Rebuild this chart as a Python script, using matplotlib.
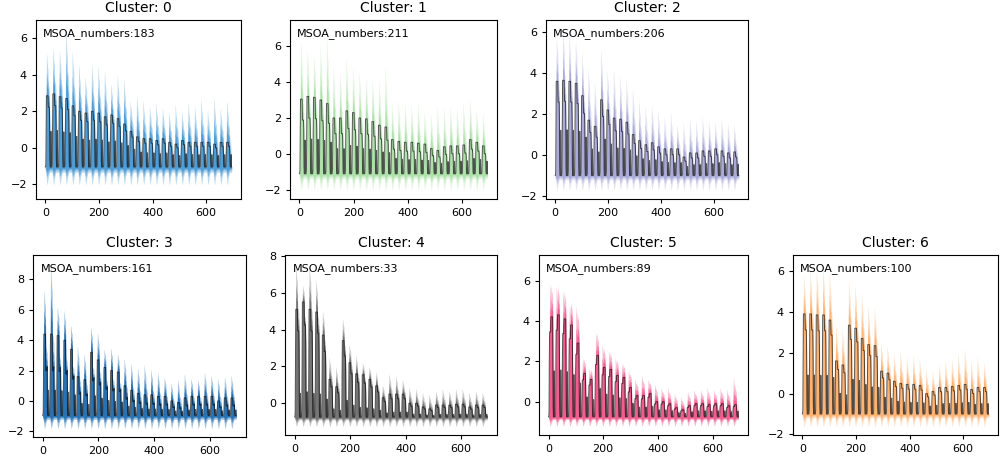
import numpy as np
import matplotlib
matplotlib.use("Agg")
import matplotlib.pyplot as plt

# ---------------- data ----------------
cluster_ids = [0, 1, 2, 3, 4, 5, 6]
msoa_numbers = [183, 211, 206, 161, 33, 89, 100]
colors = ['#3e93d1', '#93d98e', '#9191cf', '#1f6cb0', '#6b6b6b', '#ef5488', '#fdac66']

n_days = 29
hours = 24

# daily peak of the cluster mean (barycentre)
peak_0 = [2.85, 2.95, 2.8, 2.7, 2.3, 2.0, 1.9, 2.0, 1.9, 1.7, 1.8, 1.6, 1.3, 0.9, 0.6, 0.5, 0.5, 0.4, 0.5, 0.3, 0.2, 0.4, 0.3, 0.3, 0.3, 0.3, 0.2, 0.3, 0.3]
peak_1 = [3.05, 3.2, 3.15, 3.0, 2.8, 2.0, 2.0, 2.4, 2.3, 2.0, 1.95, 1.8, 1.6, 1.5, 0.8, 0.7, 0.65, 0.65, 0.6, 0.55, 0.3, 0.2, 0.4, 0.45, 0.45, 0.5, 0.8, 0.65, 0.45]
peak_2 = [3.6, 3.65, 3.6, 3.5, 2.9, 1.7, 1.4, 2.7, 2.2, 1.8, 1.75, 1.6, 1.0, 0.7, 0.5, 0.6, 0.4, 0.3, 0.3, 0.3, -0.1, 0.1, 0.1, 0.2, 0.2, 0.3, 0.2, 0.1, 0.15]
peak_3 = [4.4, 4.4, 4.3, 4.0, 3.4, 1.6, 1.4, 3.2, 2.7, 2.2, 2.0, 1.9, 1.0, 0.7, 0.5, 0.4, 0.4, 0.3, 0.3, 0.0, -0.1, 0.2, 0.3, 0.3, 0.3, 0.3, 0.0, 0.2, 0.2]
peak_4 = [5.1, 5.5, 5.1, 4.95, 3.7, 1.3, 0.9, 3.4, 2.2, 1.6, 1.55, 1.3, 0.95, 0.3, 0.5, 0.5, 0.5, 0.0, 0.0, -0.2, -0.3, -0.1, -0.1, -0.1, -0.05, -0.05, -0.2, -0.1, -0.1]
peak_5 = [4.2, 4.3, 4.1, 3.8, 2.9, 1.4, 1.1, 2.3, 1.7, 1.6, 1.3, 1.2, 0.7, 0.3, 0.3, 0.4, 0.0, 0.0, -0.1, -0.3, -0.4, -0.2, -0.1, -0.1, -0.15, -0.1, -0.1, -0.2, -0.15]
peak_6 = [3.9, 3.9, 3.85, 3.85, 3.6, 1.6, 1.4, 3.35, 3.2, 2.7, 2.4, 2.35, 1.1, 1.0, 0.6, 0.5, 0.45, 0.45, 0.4, 0.0, 0.1, 0.3, 0.3, 0.35, 0.4, 0.45, 0.2, 0.3, 0.3]

# daily maximum reached by the individual MSOA series
max_0 = [5.2, 5.5, 5.4, 6.5, 5.3, 4.6, 3.9, 4.6, 4.5, 4.2, 3.5, 4.0, 3.8, 2.6, 2.9, 2.6, 2.3, 2.5, 2.2, 2.0, 2.4, 2.0, 2.5, 2.3, 2.7, 2.1, 2.8, 2.2, 2.6]
max_1 = [6.3, 5.8, 5.5, 6.0, 6.6, 4.9, 4.6, 5.4, 4.8, 4.6, 4.3, 4.2, 4.1, 4.9, 2.9, 3.0, 2.9, 2.8, 2.9, 2.4, 2.3, 2.7, 2.6, 2.7, 2.6, 2.9, 3.1, 2.5, 2.3]
max_2 = [5.8, 6.2, 5.9, 5.6, 5.0, 4.3, 3.6, 5.2, 4.1, 4.2, 3.9, 3.7, 3.3, 2.7, 2.4, 2.5, 2.2, 1.9, 2.1, 1.5, 1.6, 1.8, 1.7, 1.9, 1.7, 1.6, 1.8, 1.6, 1.5]
max_3 = [7.3, 9.0, 6.2, 6.0, 5.0, 3.6, 3.1, 4.9, 4.5, 3.4, 3.5, 3.1, 2.8, 2.5, 2.2, 2.4, 2.1, 1.9, 1.6, 1.2, 1.4, 1.8, 1.5, 1.4, 1.9, 1.7, 1.5, 1.6, 1.7]
max_4 = [7.5, 6.4, 7.5, 6.7, 5.0, 2.5, 2.0, 4.6, 3.2, 2.6, 2.2, 2.0, 1.7, 1.0, 1.6, 1.5, 1.3, 0.9, 0.8, 0.6, 0.5, 0.7, 0.8, 0.7, 0.8, 0.8, 0.6, 0.7, 0.6]
max_5 = [6.6, 6.5, 6.2, 5.5, 5.3, 2.5, 1.9, 3.9, 3.2, 2.9, 2.5, 2.2, 1.8, 1.3, 1.5, 1.3, 1.0, 0.8, 0.8, 0.5, 0.3, 0.6, 0.7, 0.7, 0.8, 0.7, 0.8, 0.7, 1.3]
max_6 = [5.8, 6.0, 6.1, 6.2, 5.9, 3.4, 3.2, 5.5, 5.3, 4.9, 4.3, 4.2, 2.5, 2.3, 2.0, 2.1, 1.8, 1.9, 1.7, 1.2, 1.1, 1.4, 1.6, 1.7, 2.0, 2.2, 1.6, 1.8, 1.5]

peaks = [peak_0, peak_1, peak_2, peak_3, peak_4, peak_5, peak_6]
maxima = [max_0, max_1, max_2, max_3, max_4, max_5, max_6]

night_level = [-1.05, -1.1, -1.0, -0.95, -0.75, -0.75, -1.0]   # mean at night
member_min = [-2.0, -2.0, -1.7, -1.8, -1.25, -1.2, -1.6]       # lowest member values
shoulder = [0.84, 0.72, 0.78, 0.55, 0.80, 0.85, 0.84]          # step in the daytime plateau
second_bump = [0.5, 0.45, 0.48, 0.31, 0.22, 0.46, 0.39]        # small night bump
step_up = [False, False, False, False, False, True, False]
y_limits = [(-2.8, 7.0), (-2.5, 7.45), (-2.15, 6.6), (-2.37, 9.6),
            (-1.72, 8.05), (-1.65, 7.27), (-2.03, 6.79)]
band_alpha = [(0.35, 0.50, 0.70), (0.25, 0.35, 0.45), (0.25, 0.35, 0.50),
              (0.40, 0.60, 0.80), (0.35, 0.55, 0.75), (0.40, 0.60, 0.75),
              (0.35, 0.50, 0.70)]

# daily shape of the curves (fractions per hour)
rise = [0, 0, 0.05, 0.6]
fall = [0.6, 0.1, 0, 0, 0, None, 0, 0]
upper_shape = [0, 0, 0.1, 0.5, 0.9, 1.0, 0.85, 0.75, 0.7, 0.65, 0.6, 0.55, 0.5, 0.5, 0.45, 0.4, 0.35, 0.25, 0.1, 0, 0, None, 0, 0]
lower_shape = [0.3, 0.3, 0.35, 0.5, 0.7, 0.85, 1.0, 1.0, 0.9, 0.8, 0.7, 0.6, 0.5, 0.45, 0.4, 0.35, 0.3, 0.3, 0.3, 0.3, 0.3, 0.3, 0.3, 0.3]

# ---------------- axes positions (figure fraction) ----------------
positions = [
    [0.036, 0.5646, 0.205, 0.3917],
    [0.290, 0.5646, 0.207, 0.3917],
    [0.546, 0.5646, 0.202, 0.3917],
    [0.033, 0.0438, 0.213, 0.3980],
    [0.285, 0.0481, 0.212, 0.3940],
    [0.539, 0.0481, 0.209, 0.3940],
    [0.793, 0.0481, 0.205, 0.3940],
]


def day_shape(S, sp, up):
    core = [S, S, S, S, S, 1, 1, 1, 1, 1, 1, 1] if up else [1, 1, 1, 1, 1, 1, 1, S, S, S, S, S]
    tail = [sp if v is None else v for v in fall]
    return np.array(rise + core + tail, dtype=float)


fig = plt.figure(figsize=(10, 4.57), dpi=100)
t = np.arange(n_days * hours)

for k, cid in enumerate(cluster_ids):
    ax = fig.add_axes(positions[k])
    p = np.tile(day_shape(shoulder[k], second_bump[k], step_up[k]), n_days)
    q = np.tile(np.array([second_bump[k] if v is None else v for v in upper_shape]), n_days)
    r = np.tile(np.array(lower_shape), n_days)
    pk = np.repeat(np.array(peaks[k]), hours)
    mx = np.repeat(np.array(maxima[k]), hours)
    base = night_level[k]

    mean = base + (pk - base) * p
    upper = mean + (mx - pk) * q
    lower = base + (member_min[k] - base) * r

    for f, a in zip((1.0, 0.55, 0.28), band_alpha[k]):
        ax.fill_between(t, base - f * (base - lower), mean + f * (upper - mean),
                        color=colors[k], alpha=a, linewidth=0)
    ax.plot(t, mean, color='black', linewidth=0.7, alpha=0.65)

    ax.set_ylim(*y_limits[k])
    ax.set_xticks([0, 200, 400, 600])
    ax.tick_params(labelsize=8, length=3, width=0.8)
    ax.set_title(f"Cluster: {cid}", fontsize=10)
    ax.text(0.035, 0.925, f"MSOA_numbers:{msoa_numbers[k]}", transform=ax.transAxes,
            fontsize=8, va='center', ha='left')

fig.savefig("out.png", dpi=100)
